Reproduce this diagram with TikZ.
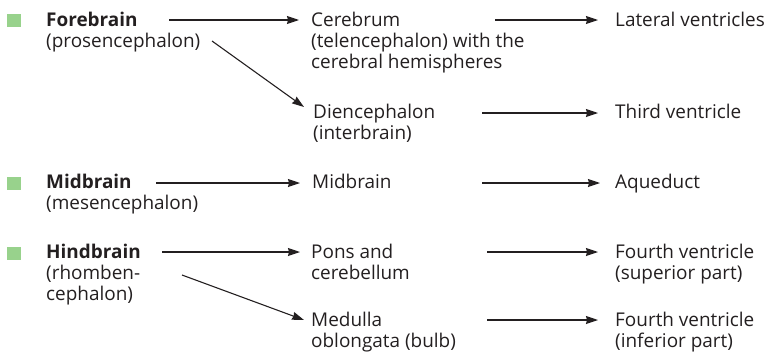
\documentclass[tikz,border=0pt]{standalone}
\usepackage{fontspec}
\setmainfont{Open Sans}
\usetikzlibrary{arrows.meta}
\definecolor{sqgreen}{RGB}{152,210,140}
\definecolor{txt}{RGB}{35,31,32}
\tikzset{
  lbl/.style={anchor=base west,inner sep=0pt,font=\fontsize{19}{21}\selectfont,text=txt,align=left},
  hd/.style={lbl,font=\fontsize{19}{21}\selectfont\bfseries},
  arr/.style={draw=txt,line width=1.1pt,-{Stealth[length=12bp,width=8bp,inset=1bp]}},
  sq/.style={fill=sqgreen,draw=none,minimum size=14pt,inner sep=0pt}
}
\begin{document}
\begin{tikzpicture}[x=1bp,y=-1bp]
\useasboundingbox (0,0) rectangle (772,356);
% bullets
\node[sq] (b1) at (14,20.5) {};
\node[sq] (b2) at (14,183.5) {};
\node[sq] (b3) at (14,253.5) {};
% left column
\node[hd] (fore) at (46,26.5) {Forebrain};
\node[lbl] (fore2) at (46,47.5) {(prosencephalon)};
\node[hd] (mid) at (46,188) {Midbrain};
\node[lbl] (mid2) at (46,209) {(mesencephalon)};
\node[hd] (hind) at (46,258) {Hindbrain};
\node[lbl] (hind2) at (46,279) {(rhomben-};
\node[lbl] (hind3) at (46,300) {cephalon)};
% middle column
\node[lbl] (cer) at (311,26.5) {Cerebrum};
\node[lbl] (cer2) at (311,47.5) {(telencephalon) with the};
\node[lbl] (cer3) at (311,68.5) {cerebral hemispheres};
\node[lbl] (die) at (313,118) {Diencephalon};
\node[lbl] (die2) at (313,139) {(interbrain)};
\node[lbl] (midm) at (312,188) {Midbrain};
\node[lbl] (pons) at (311,258) {Pons and};
\node[lbl] (pons2) at (311,279) {cerebellum};
\node[lbl] (med) at (311,326) {Medulla};
\node[lbl] (med2) at (311,347) {oblongata (bulb)};
% right column
\node[lbl] (lat) at (615,26.5) {Lateral ventricles};
\node[lbl] (third) at (615,118) {Third ventricle};
\node[lbl] (aq) at (615,188) {Aqueduct};
\node[lbl] (fsup) at (615,258) {Fourth ventricle};
\node[lbl] (fsup2) at (615,279) {(superior part)};
\node[lbl] (finf) at (615,326) {Fourth ventricle};
\node[lbl] (finf2) at (615,347) {(inferior part)};
% arrow end points
\coordinate (a1s) at (169,20); \coordinate (a1e) at (299,20);
\coordinate (a2s) at (212,41); \coordinate (a2e) at (304,107);
\coordinate (a3s) at (495,20); \coordinate (a3e) at (598,20);
\coordinate (a4s) at (482,113); \coordinate (a4e) at (598,113);
\coordinate (a5s) at (156,183); \coordinate (a5e) at (300,183);
\coordinate (a6s) at (482,183); \coordinate (a6e) at (600,183);
\coordinate (a7s) at (162,252); \coordinate (a7e) at (300,252);
\coordinate (a8s) at (182,275); \coordinate (a8e) at (304,320);
\coordinate (a9s) at (487,252); \coordinate (a9e) at (598,252);
\coordinate (a10s) at (487,320); \coordinate (a10e) at (598,320);
\foreach \i in {1,...,10}{\draw[arr] (a\i s) -- (a\i e);}
\end{tikzpicture}
\end{document}
